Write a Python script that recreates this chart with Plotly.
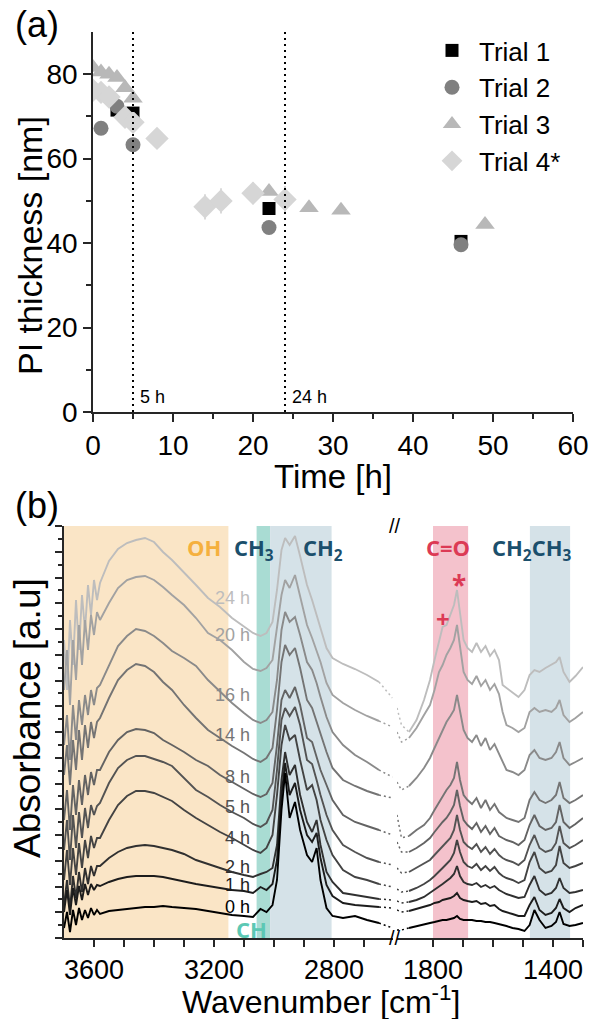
import plotly.graph_objects as go

# ---------------- Panel (a): PI thickness vs time ----------------
T1_TIME = [0, 3, 5, 22, 46]
T1_THK = [75.8, 71.5, 70.8, 48.2, 40.4]
T2_TIME = [0, 1, 2, 3, 5, 22, 46]
T2_THK = [76.3, 67.2, 74.5, 72.4, 63.3, 43.7, 39.6]
T3_TIME = [0, 1, 2, 3, 4, 5, 22, 27, 31, 49]
T3_THK = [81.6, 80.5, 80.0, 79.2, 76.8, 74.3, 52.2, 48.4, 47.8, 44.4]
T4_TIME = [0, 1, 2, 4, 5, 8, 14, 16, 20, 24]
T4_THK = [76.2, 75.7, 74.6, 69.8, 68.6, 64.8, 48.6, 50.0, 51.8, 50.3]
T4_ERR = [0, 0, 0, 0, 0, 0, 3.0, 3.0, 2.6, 3.2]
VLINES = [5, 24]
VLINE_LABELS = ["5 h", "24 h"]

# ---------------- Panel (b): FTIR spectra (absorbance, a.u.) ----------------
WN_LEFT = [3700, 3690, 3680, 3670, 3660, 3650, 3640, 3630, 3620, 3610, 3600, 3590,
           3580, 3550, 3520, 3490, 3460, 3430, 3400, 3370, 3340, 3300, 3260, 3220,
           3180, 3140, 3100, 3070, 3045, 3025, 3005, 2990, 2975, 2963, 2948, 2930,
           2913, 2890, 2873, 2858, 2845, 2825, 2805, 2770, 2730, 2690, 2650, 2605]
WN_RIGHT = [1920, 1905, 1880, 1855, 1830, 1810, 1795, 1780, 1768, 1755, 1742, 1730, 1720,
            1710, 1698, 1685, 1670, 1655, 1640, 1625, 1610, 1595, 1580, 1568, 1555, 1535,
            1515, 1495, 1478, 1462, 1445, 1425, 1405, 1390, 1378, 1365, 1345, 1325, 1300]

SPEC_L_24H = [298, 248, 318, 273, 338, 288, 343, 308, 353, 323, 358, 338,
              355, 377, 389, 395, 398, 400, 396, 386, 378, 366, 353, 340, 331, 320, 311, 305, 302, 305, 316, 348,
              388, 400, 393, 402, 382, 353, 338, 323, 308, 290, 280, 274, 269, 263, 256, 240]
SPEC_L_20H = [248, 288, 233, 298, 258, 313, 273, 318, 288, 323, 303, 326,
              318, 335, 350, 358, 361, 362, 358, 351, 343, 333, 320, 305, 298, 288, 276, 269, 267, 270, 278, 308,
              343, 358, 350, 363, 343, 313, 300, 288, 276, 255, 243, 235, 228, 222, 217, 211]
SPEC_L_16H = [193, 223, 178, 233, 198, 238, 213, 243, 223, 248, 233, 250,
              253, 273, 292, 302, 309, 307, 302, 295, 287, 280, 272, 258, 246, 235, 225, 218, 215, 218, 226, 258,
              308, 326, 316, 321, 303, 276, 268, 255, 241, 221, 206, 193, 183, 176, 168, 161]
SPEC_L_14H = [163, 193, 153, 198, 168, 208, 178, 213, 190, 216, 200, 216,
              220, 240, 258, 268, 274, 272, 266, 256, 248, 233, 220, 208, 200, 192, 185, 179, 176, 180, 190, 228,
              276, 293, 283, 290, 270, 238, 230, 216, 203, 186, 170, 158, 152, 147, 143, 140]
SPEC_L_08H = [118, 148, 108, 153, 123, 158, 133, 163, 143, 166, 153, 168,
              168, 186, 198, 206, 209, 208, 205, 198, 193, 186, 178, 172, 163, 156, 149, 144, 141, 144, 155, 193,
              238, 248, 240, 251, 233, 200, 196, 181, 168, 153, 138, 123, 116, 112, 108, 103]
SPEC_L_05H = [88, 118, 78, 123, 90, 126, 100, 130, 110, 133, 123, 132,
              135, 155, 170, 178, 182, 182, 179, 176, 172, 160, 148, 141, 133, 126, 120, 114, 111, 115, 128, 168,
              218, 230, 222, 231, 213, 178, 174, 158, 143, 123, 108, 93, 86, 80, 76, 73]
SPEC_L_04H = [58, 88, 53, 90, 63, 95, 70, 98, 80, 102, 90, 100,
              100, 118, 133, 142, 147, 147, 145, 141, 137, 128, 120, 113, 106, 100, 93, 88, 85, 90, 103, 143,
              193, 213, 198, 203, 178, 148, 153, 138, 118, 98, 83, 68, 61, 58, 54, 51]
SPEC_L_02H = [33, 58, 30, 62, 40, 66, 46, 70, 54, 72, 62, 72,
              72, 80, 86, 90, 92, 93, 92, 90, 88, 84, 78, 74, 70, 66, 63, 61, 64, 66, 70, 93,
              158, 186, 163, 173, 143, 116, 106, 118, 93, 66, 56, 45, 43, 41, 39, 38]
SPEC_L_01H = [26, 48, 23, 50, 33, 52, 38, 54, 43, 54, 48, 53,
              52, 56, 59, 61, 62, 62, 62, 61, 59, 57, 54, 52, 50, 48, 47, 45, 51, 48, 54, 78,
              143, 175, 143, 155, 128, 103, 96, 105, 80, 53, 42, 35, 33, 32, 31, 30]
SPEC_L_00H = [10, 26, 6, 28, 13, 30, 18, 28, 20, 30, 23, 28,
              24, 27, 28, 29, 30, 31, 31, 32, 31, 30, 29, 27, 25, 23, 22, 21, 29, 26, 33, 58,
              128, 165, 120, 136, 108, 83, 76, 90, 58, 30, 22, 20, 22, 18, 15, 10]

SPEC_R_24H = [230, 213, 206, 218, 238, 258, 278, 298, 311, 313, 323, 333, 348, 326, 298, 290, 286, 295, 286, 292,
              282, 288, 278, 253, 250, 245, 241, 248, 263, 268, 266, 270, 273, 276, 281, 266, 256, 262, 271]
SPEC_R_20H = [206, 196, 200, 210, 223, 233, 248, 266, 273, 283, 290, 298, 313, 290, 266, 258, 254, 262, 252, 258,
              248, 254, 244, 226, 213, 210, 206, 210, 226, 230, 226, 228, 226, 230, 238, 223, 216, 220, 226]
SPEC_R_16H = [156, 148, 152, 160, 170, 180, 190, 200, 208, 216, 222, 228, 243, 226, 208, 200, 196, 203, 192, 200,
              188, 194, 184, 176, 168, 166, 163, 168, 183, 188, 180, 178, 180, 186, 196, 180, 173, 176, 180]
SPEC_R_14H = [123, 100, 102, 108, 113, 120, 128, 136, 142, 148, 153, 160, 176, 158, 143, 138, 134, 140, 130, 138,
              128, 134, 126, 123, 120, 118, 116, 120, 138, 146, 138, 135, 138, 143, 156, 140, 135, 138, 143]
SPEC_R_08H = [96, 86, 86, 90, 95, 100, 106, 112, 116, 120, 126, 133, 148, 132, 118, 113, 109, 115, 106, 112,
              104, 110, 102, 100, 98, 96, 93, 98, 113, 123, 112, 108, 110, 116, 133, 116, 110, 114, 120]
SPEC_R_05H = [70, 65, 66, 70, 74, 78, 83, 88, 92, 96, 100, 108, 123, 108, 96, 92, 89, 94, 86, 91,
              84, 89, 83, 80, 78, 76, 73, 78, 93, 103, 90, 86, 88, 95, 112, 95, 90, 93, 98]
SPEC_R_04H = [49, 46, 47, 50, 54, 58, 62, 66, 70, 74, 78, 85, 98, 86, 76, 72, 70, 74, 68, 72,
              67, 71, 65, 62, 60, 58, 55, 58, 76, 86, 70, 65, 67, 73, 92, 75, 70, 72, 75]
SPEC_R_02H = [37, 35, 36, 38, 41, 45, 48, 51, 54, 57, 60, 64, 72, 62, 56, 54, 53, 55, 51, 53,
              50, 52, 48, 46, 44, 42, 40, 41, 53, 62, 48, 43, 45, 50, 60, 50, 45, 46, 48]
SPEC_R_01H = [28, 26, 27, 29, 31, 33, 35, 36, 38, 39, 40, 42, 45, 40, 38, 37, 36, 37, 34, 35,
              32, 33, 29, 27, 26, 24, 22, 22, 33, 41, 28, 23, 25, 30, 39, 30, 26, 30, 33]
SPEC_R_00H = [8, 8, 10, 12, 14, 15, 16, 17, 18, 18, 19, 20, 22, 19, 18, 18, 18, 17, 17, 16,
              16, 15, 14, 13, 12, 10, 9, 7, 13, 28, 18, 10, 12, 16, 26, 14, 12, 13, 15]

SPEC_LABELS = ["24 h", "20 h", "16 h", "14 h", "8 h", "5 h", "4 h", "2 h", "1 h", "0 h"]
SPEC_LEFT = [SPEC_L_24H, SPEC_L_20H, SPEC_L_16H, SPEC_L_14H, SPEC_L_08H,
             SPEC_L_05H, SPEC_L_04H, SPEC_L_02H, SPEC_L_01H, SPEC_L_00H]
SPEC_RIGHT = [SPEC_R_24H, SPEC_R_20H, SPEC_R_16H, SPEC_R_14H, SPEC_R_08H,
              SPEC_R_05H, SPEC_R_04H, SPEC_R_02H, SPEC_R_01H, SPEC_R_00H]
SPEC_COLORS = ["#bdbdbd", "#a2a2a2", "#8a8a8a", "#747474", "#636363",
               "#535353", "#434343", "#303030", "#1c1c1c", "#000000"]
LABEL_HEIGHT = [340, 303, 243, 203, 161, 131, 100, 71, 53, 31]

W, H = 590, 1019
FONT = "Liberation Sans, Arial, sans-serif"
BOLD = "Open Sans, Liberation Sans, sans-serif"
AXC = "#262626"


def px(x):
    return x / W


def py(y):
    return 1 - y / H


fig = go.Figure()

# ---- panel (a) traces ----
fig.add_trace(go.Scatter(x=T1_TIME, y=T1_THK, mode="markers", name="Trial 1",
                         marker=dict(symbol="square", size=13, color="#000000"),
                         xaxis="x", yaxis="y"))
fig.add_trace(go.Scatter(x=T2_TIME, y=T2_THK, mode="markers", name="Trial 2",
                         marker=dict(symbol="circle", size=15, color="#808080"),
                         xaxis="x", yaxis="y"))
fig.add_trace(go.Scatter(x=T3_TIME, y=T3_THK, mode="markers", name="Trial 3",
                         marker=dict(symbol="triangle-up", size=17, color="#b8b8b8"),
                         xaxis="x", yaxis="y"))
fig.add_trace(go.Scatter(x=T4_TIME, y=T4_THK, mode="markers", name="Trial 4*",
                         marker=dict(symbol="diamond", size=18, color="#d6d6d6"),
                         error_y=dict(type="data", array=T4_ERR, visible=True,
                                      color="#d6d6d6", thickness=1.8, width=0),
                         xaxis="x", yaxis="y"))

# ---- panel (b) traces ----
for lab, yl, yr, col in zip(SPEC_LABELS, SPEC_LEFT, SPEC_RIGHT, SPEC_COLORS):
    common = dict(mode="lines", showlegend=False, hoverinfo="skip")
    fig.add_trace(go.Scatter(x=WN_LEFT[:-1], y=yl[:-1], xaxis="x2", yaxis="y2",
                             line=dict(color=col, width=1.9), name=lab, **common))
    fig.add_trace(go.Scatter(x=WN_LEFT[-2:], y=yl[-2:], xaxis="x2", yaxis="y2",
                             line=dict(color=col, width=1.5, dash="2px,3px"), name=lab, **common))
    fig.add_trace(go.Scatter(x=WN_RIGHT[:3], y=yr[:3], xaxis="x3", yaxis="y2",
                             line=dict(color=col, width=1.5, dash="2px,3px"), name=lab, **common))
    fig.add_trace(go.Scatter(x=WN_RIGHT[2:], y=yr[2:], xaxis="x3", yaxis="y2",
                             line=dict(color=col, width=1.9), name=lab, **common))

base = dict(showline=True, linecolor=AXC, linewidth=1.5, showgrid=False, zeroline=False,
            tickcolor=AXC, tickwidth=1.5, automargin=False,
            tickfont=dict(family=FONT, size=28, color="black"))
TICKFONT_B = dict(family=FONT, size=27, color="black")

XA_DOM = [px(93), px(573)]
YA_DOM = [py(412), py(32)]
XB_DOM = [px(64), px(392.5)]
XC_DOM = [px(397), px(583)]
YB_DOM = [py(938), py(526)]

B_TICKS_L = [3600, 3500, 3400, 3300, 3200, 3100, 3000, 2900, 2800, 2700]
B_TICKS_R = [1800, 1700, 1600, 1500, 1400, 1300]

layout = dict(
    width=W, height=H, margin=dict(l=0, r=0, t=0, b=0, pad=0, autoexpand=False),
    paper_bgcolor="white", plot_bgcolor="white",
    showlegend=True,
    legend=dict(x=px(566), y=py(27), xanchor="right", yanchor="top",
                bgcolor="rgba(0,0,0,0)", font=dict(family=FONT, size=26, color="black"),
                itemsizing="trace", itemwidth=44),
    xaxis=dict(base, domain=XA_DOM, anchor="y", range=[0, 60], tick0=0, dtick=10,
               ticks="outside", ticklen=8,
               minor=dict(dtick=5, ticks="outside", ticklen=5, tickcolor=AXC, tickwidth=1.5)),
    yaxis=dict(base, domain=YA_DOM, anchor="x", range=[0, 90], tickmode="array",
               tickvals=[0, 20, 40, 60, 80], ticks="outside", ticklen=8,
               minor=dict(tickmode="array", tickvals=[10, 30, 50, 70], ticks="outside",
                          ticklen=5, tickcolor=AXC, tickwidth=1.5)),
    xaxis4=dict(base, overlaying="x", anchor="y", side="top", range=[0, 60], tick0=0, dtick=5,
                ticks="inside", ticklen=6, showticklabels=False),
    yaxis4=dict(base, overlaying="y", anchor="x", side="right", range=[0, 90], tickmode="array",
                tickvals=[10, 20, 30, 40, 50, 60, 70, 80], ticks="inside", ticklen=8,
                showticklabels=False),
    xaxis2=dict(base, domain=XB_DOM, anchor="y2", range=[3700, 2605], tickmode="array",
                tickvals=B_TICKS_L, tickfont=TICKFONT_B,
                ticktext=[str(v) if v % 400 == 0 else "" for v in B_TICKS_L],
                ticks="outside", ticklen=7),
    xaxis3=dict(base, domain=XC_DOM, anchor="y2", range=[1920, 1300], tickmode="array",
                tickvals=B_TICKS_R, tickfont=TICKFONT_B,
                ticktext=[str(v) if v in (1800, 1400) else "" for v in B_TICKS_R],
                ticks="outside", ticklen=7),
    xaxis5=dict(base, overlaying="x2", anchor="y2", side="top", range=[3700, 2605],
                tickmode="array", tickvals=B_TICKS_L, ticks="inside", ticklen=7,
                showticklabels=False),
    xaxis6=dict(base, overlaying="x3", anchor="y2", side="top", range=[1920, 1300],
                tickmode="array", tickvals=B_TICKS_R, ticks="inside", ticklen=7,
                showticklabels=False),
    yaxis2=dict(base, domain=YB_DOM, anchor="x2", range=[0, 412], tick0=0, dtick=25.75,
                ticks="outside", ticklen=7, showticklabels=False,
                minor=dict(dtick=12.875, ticks="outside", ticklen=4, tickcolor=AXC, tickwidth=1.5)),
    yaxis3=dict(base, overlaying="y2", anchor="x3", side="right", range=[0, 412], tick0=0,
                dtick=25.75, ticks="inside", ticklen=6, showticklabels=False,
                minor=dict(dtick=12.875, ticks="inside", ticklen=4, tickcolor=AXC, tickwidth=1.5)),
)
fig.update_layout(**layout)

shapes = []
# dotted time markers in (a)
for v in VLINES:
    shapes.append(dict(type="line", xref="x", yref="y domain", x0=v, x1=v, y0=0, y1=1,
                       line=dict(color="black", width=2, dash="2px,4px")))
# band shading in (b)
BANDS = [("x2", 3700, 3152, "#fae5c6"), ("x2", 3058, 3013, "#a9dcd3"),
         ("x2", 3013, 2808, "#d5e2e8"), ("x3", 1800, 1683, "#f4c2cc"),
         ("x3", 1477, 1343, "#d5e2e8")]
for xr, a, b, c in BANDS:
    shapes.append(dict(type="rect", xref=xr, yref="y2 domain", x0=a, x1=b, y0=0, y1=1,
                       fillcolor=c, line=dict(width=0), layer="below"))
fig.update_layout(shapes=shapes)

ann = []
for v, t in zip(VLINES, VLINE_LABELS):
    ann.append(dict(x=v + 0.6, y=3.6, xref="x", yref="y", text=t, showarrow=False,
                    xanchor="left", yanchor="middle", font=dict(family=FONT, size=18, color="black")))
for lab, hgt, col in zip(SPEC_LABELS, LABEL_HEIGHT, SPEC_COLORS):
    ann.append(dict(x=3073, y=hgt, xref="x2", yref="y2", text=lab, showarrow=False,
                    xanchor="right", yanchor="middle",
                    font=dict(family=FONT, size=18, color=col)))


def pann(x, y, text, size, color="black", family=FONT, angle=0, xanchor="center"):
    ann.append(dict(x=px(x), y=py(y), xref="paper", yref="paper", text=text, showarrow=False,
                    xanchor=xanchor, yanchor="middle", textangle=angle,
                    font=dict(family=family, size=size, color=color)))


pann(37, 25, "(a)", 36)
pann(37, 505, "(b)", 36)
pann(333, 477, "Time [h]", 33)
pann(30, 246, "PI thickness [nm]", 34, angle=-90)
pann(321, 1000, "Wavenumber [cm<sup>-1</sup>]", 32)
pann(27, 718, "Absorbance [a.u]", 37, angle=-90)
pann(204, 547, "<b>OH</b>", 22, color="#f5b03e", family=BOLD)
pann(254, 549, "<b>CH<sub>3</sub></b>", 22, color="#1b4f6c", family=BOLD)
pann(323, 549, "<b>CH<sub>2</sub></b>", 22, color="#1b4f6c", family=BOLD)
pann(448, 547, "<b>C=O</b>", 22, color="#dc3a55", family=BOLD)
pann(532, 549, "<b>CH<sub>2</sub>CH<sub>3</sub></b>", 22, color="#1b4f6c", family=BOLD)
pann(251, 929, "<b>CH</b>", 22, color="#5cc8b4", family=BOLD)
pann(459, 585, "<b>*</b>", 26, color="#dc3a55", family=BOLD)
pann(443, 618, "<b>+</b>", 24, color="#dc3a55", family=BOLD)
pann(395, 938, "//", 20)
pann(395, 526, "//", 20)
fig.update_layout(annotations=ann)

fig.write_html("out.html", config={"displayModeBar": False},
               post_script="document.body.style.margin='0';document.body.style.padding='0';"
                           "document.body.style.overflow='hidden';")
